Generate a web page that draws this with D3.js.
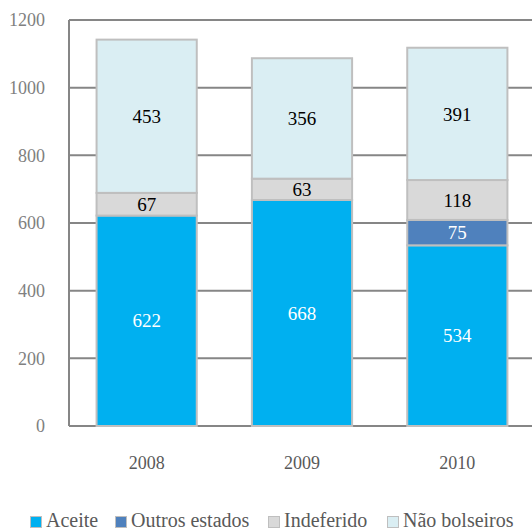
<!DOCTYPE html>
<html>
<head>
    <meta charset="UTF-8">
    <script src="https://d3js.org/d3.v7.min.js"></script>
    <style>
     body { margin: 0; background: #fff; }
    </style>
</head>
<body>
    <div id="chart"></div>
    <script>
     // values
     const years = ["2008", "2009", "2010"];
     const series = ["Aceite", "Outros estados", "Indeferido", "Não bolseiros"];
     const aceite = [622, 668, 534];
     const outros = [0, 0, 75];
     const indeferido = [67, 63, 118];
     const naoBolseiros = [453, 356, 391];
     const yTicks = [0, 200, 400, 600, 800, 1000, 1200];

     const colors = ["#00b0f0", "#4f81bd", "#d9d9d9", "#daeef3"];
     const labelColors = ["#fff", "#fff", "#000", "#000"];

     const width = 532, height = 531;
     const margin = {top: 20, left: 69, right: -3, bottom: 105};

     let rows = years.map((y, i) => ({
         year: y,
         "Aceite": aceite[i],
         "Outros estados": outros[i],
         "Indeferido": indeferido[i],
         "Não bolseiros": naoBolseiros[i]
     }));
     let stacked = d3.stack().keys(series)(rows);

     let svg = d3.select("#chart").append("svg")
                 .attr("width", width)
                 .attr("height", height)
                 .style("font-family", "Liberation Serif");

     let x = d3.scaleBand()
               .domain(years)
               .range([margin.left, width - margin.right])
               .paddingInner(0.355)
               .paddingOuter(0.1775);
     let y = d3.scaleLinear()
               .domain([0, 1200])
               .range([height - margin.bottom, margin.top]);

     // gridlines
     svg.append("g")
        .selectAll("line")
        .data(yTicks)
        .enter()
        .append("line")
        .attr("x1", margin.left)
        .attr("x2", width)
        .attr("y1", d => y(d))
        .attr("y2", d => y(d))
        .attr("stroke", "#868686")
        .attr("stroke-width", 2);

     // y axis line
     svg.append("line")
        .attr("x1", margin.left).attr("x2", margin.left)
        .attr("y1", y(0)).attr("y2", y(1200))
        .attr("stroke", "#868686")
        .attr("stroke-width", 2);

     svg.append("g")
        .selectAll("text")
        .data(yTicks)
        .enter()
        .append("text")
        .attr("x", 45)
        .attr("y", d => y(d))
        .attr("dy", "0.35em")
        .attr("text-anchor", "end")
        .attr("font-size", 18)
        .attr("fill", "#808080")
        .text(d => d);

     // bars
     let layers = svg.append("g")
        .selectAll("g")
        .data(stacked)
        .enter()
        .append("g");

     layers.selectAll("rect")
        .data((d, i) => d.map(s => ({s: s, i: i})).filter(o => o.s[1] > o.s[0]))
        .enter()
        .append("rect")
        .attr("x", d => x(d.s.data.year))
        .attr("width", x.bandwidth())
        .attr("y", d => y(d.s[1]))
        .attr("height", d => y(d.s[0]) - y(d.s[1]))
        .attr("fill", d => colors[d.i])
        .attr("stroke", "#bfbfbf")
        .attr("stroke-width", 2);

     layers.selectAll("text")
        .data((d, i) => d.map(s => ({s: s, i: i})).filter(o => o.s[1] > o.s[0]))
        .enter()
        .append("text")
        .attr("x", d => x(d.s.data.year) + x.bandwidth() / 2)
        .attr("y", d => y((d.s[0] + d.s[1]) / 2))
        .attr("dy", "0.35em")
        .attr("text-anchor", "middle")
        .attr("font-size", 19)
        .attr("fill", d => labelColors[d.i])
        .text(d => d.s[1] - d.s[0]);

     // x labels
     svg.append("g")
        .selectAll("text")
        .data(years)
        .enter()
        .append("text")
        .attr("x", d => x(d) + x.bandwidth() / 2)
        .attr("y", 463)
        .attr("dy", "0.35em")
        .attr("text-anchor", "middle")
        .attr("font-size", 18)
        .attr("fill", "#595959")
        .text(d => d);

     // legend
     const legendX = [30, 115, 268, 387];
     let legend = svg.append("g")
        .selectAll("g")
        .data(series)
        .enter()
        .append("g")
        .attr("transform", (d, i) => `translate(${legendX[i]},520)`);
     legend.append("rect")
        .attr("x", 0.5).attr("y", -3.5)
        .attr("width", 11).attr("height", 11)
        .attr("fill", (d, i) => colors[i])
        .attr("stroke", "#bfbfbf")
        .attr("stroke-width", 1);
     legend.append("text")
        .attr("x", 16)
        .attr("dy", "0.35em")
        .attr("font-size", 20)
        .attr("fill", "#595959")
        .text(d => d);
    </script>
</body>
</html>
